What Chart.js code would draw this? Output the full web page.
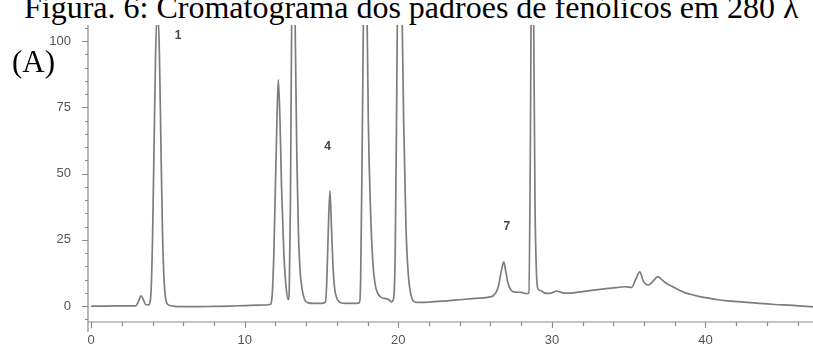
<!DOCTYPE html>
<html lang="pt">
<head>
    <meta charset="UTF-8">
    <title>Cromatograma dos padrões de fenólicos</title>
    <style>
        * { margin: 0; padding: 0; box-sizing: border-box; }
        body { background: #fff; width: 813px; height: 347px; overflow: hidden; position: relative; }
        #wrap { position: absolute; left: 0; top: 0; width: 813px; height: 347px; }
        .title {
            position: absolute; left: 0; top: 0; width: 813px; height: 25px;
            overflow: hidden; background: #fff; z-index: 2;
        }
        .title span {
            position: absolute; left: 24px; top: -9px;
            font: 32px "Liberation Serif", serif; line-height: 32px;
            white-space: nowrap; color: #000;
        }
        .panel {
            position: absolute; left: 12px; top: 47px; z-index: 2;
            font: 31px "Liberation Serif", serif; line-height: 30px; color: #000;
        }
    </style>
</head>
<body>
<div class="title"><span>Figura. 6: Cromatograma dos padrões de fenólicos em 280 λ</span></div>
<div class="panel">(A)</div>
<div id="wrap"><canvas id="chrom" width="813" height="347"></canvas></div>

<script src="https://cdn.jsdelivr.net/npm/chart.js@4.4.0/dist/chart.umd.min.js"></script>
<script>
// retention time (min) and detector signal
const rtMin = [
    0, 1, 2, 2.9, 3.1, 3.25, 3.4, 3.55, 3.75, 3.9, 4.0, 4.1, 4.2, 4.33, 4.45, 4.55, 4.65, 4.75, 4.85, 5.0, 5.3,
    6, 7, 8, 9, 10, 11, 11.65, 11.8, 11.9, 12.0, 12.1, 12.19, 12.3, 12.4, 12.55, 12.7, 12.84,
    12.9, 12.98, 13.05, 13.16, 13.3, 13.4, 13.5, 13.6, 13.75, 13.9, 14.1, 14.5, 15.0,
    15.25, 15.35, 15.45, 15.55, 15.65, 15.75, 15.85, 16.0, 16.2, 16.6, 17.0,
    17.45, 17.55, 17.65, 17.75, 17.85, 17.95, 18.05, 18.2, 18.35, 18.5, 18.65, 18.9, 19.2, 19.4, 19.56,
    19.7, 19.8, 19.9, 20.0, 20.1, 20.2, 20.35, 20.5, 20.65, 20.8, 21.0, 21.3,
    22, 23, 24, 25, 25.8, 26.2, 26.5, 26.7, 26.87, 27.0, 27.15, 27.35, 27.6, 28.0, 28.35,
    28.5, 28.6, 28.7, 28.8, 28.9, 29.0, 29.1, 29.3, 29.5, 29.7, 30.0, 30.3, 30.5, 30.8, 31.2,
    32, 32.7, 33.5, 34.2, 34.75, 35.2, 35.45, 35.72, 35.95, 36.26, 36.6, 36.9, 37.15, 37.45,
    37.9, 38.3, 38.7, 39.2, 39.7, 40.3, 40.8, 41.4, 42.5, 43.5, 44.5, 45.7, 47
];
const signal = [
    0, 0, 0.1, 0.1, 2, 3.9, 2.5, 0.6, 0.5, 5, 25, 60, 95, 112, 95, 60, 28, 10, 3, 0.6, 0,
    -0.2, -0.2, -0.1, 0, 0.2, 0.4, 0.6, 5, 20, 45, 70, 85.5, 70, 45, 20, 7, 2.5,
    5, 40, 100, 150, 100, 55, 28, 14, 6, 2.5, 1.3, 1.0, 1.0,
    1.5, 10, 30, 43.5, 30, 15, 7, 3, 1.4, 1.0, 1.0,
    1.2, 10, 60, 120, 170, 120, 70, 35, 16, 8, 5, 3.2, 2.8, 2.3, 1.6,
    3, 20, 80, 150, 170, 130, 70, 30, 12, 5, 1.8, 1.4,
    1.5, 1.9, 2.4, 2.9, 3.3, 4, 7, 13, 16.7, 13, 8.5, 6, 5.3, 5.2, 4.7,
    5, 60, 160, 120, 40, 12, 6.5, 5.8, 5, 4.8, 5.0, 5.7, 5.4, 4.9, 4.9,
    5.5, 6, 6.6, 7.0, 7.3, 7.1, 10, 12.9, 9.5, 7.9, 9.5, 11.1, 10, 8.6,
    7.2, 6, 5, 4.2, 3.5, 2.9, 2.4, 2.0, 1.5, 1.0, 0.6, 0.3, -0.3
];
// numbered peaks annotated on the trace
const peakNames = ['1', '4', '7'];
const peakRt = [5.66, 15.4, 27.07];
const peakY = [102, 60, 30];

const yTicks = [0, 25, 50, 75, 100];
const xTicks = [0, 10, 20, 30, 40];

const axisColor = '#8a8a8a';

// Origin-style major/minor ticks drawn from the scales
const tickPlugin = {
    id: 'originTicks',
    afterDraw(chart) {
        const ctx = chart.ctx;
        const xs = chart.scales.x, ys = chart.scales.y;
        const area = chart.chartArea;
        ctx.save();
        ctx.strokeStyle = axisColor;
        ctx.lineWidth = 1.2;
        ctx.beginPath();
        ctx.moveTo(area.left, area.top);
        ctx.lineTo(area.left, area.bottom + 10);
        ctx.moveTo(area.left, area.bottom);
        ctx.lineTo(area.right, area.bottom);
        for (let v = -5; v <= 105; v += 5) {
            const py = Math.round(ys.getPixelForValue(v)) + 0.5;
            const len = v % 25 === 0 ? 6 : 3;
            ctx.moveTo(area.left - len, py);
            ctx.lineTo(area.left, py);
        }
        for (let v = 0; v <= 46; v += 2) {
            const px = Math.round(xs.getPixelForValue(v)) + 0.5;
            const len = v % 10 === 0 ? 6 : 4;
            ctx.moveTo(px, area.bottom);
            ctx.lineTo(px, area.bottom + len);
        }
        ctx.stroke();

        ctx.fillStyle = '#444';
        ctx.font = 'bold 12px "Liberation Sans", Arial, sans-serif';
        ctx.textAlign = 'center';
        ctx.textBaseline = 'middle';
        peakNames.forEach((n, i) => {
            ctx.fillText(n, xs.getPixelForValue(peakRt[i]), ys.getPixelForValue(peakY[i]));
        });
        ctx.restore();
    }
};

new Chart(document.getElementById('chrom'), {
    type: 'line',
    data: {
        datasets: [{
            data: rtMin.map((t, i) => ({ x: t, y: signal[i] })),
            borderColor: '#7d7d7d',
            borderWidth: 1.7,
            pointRadius: 0,
            cubicInterpolationMode: 'monotone',
            fill: false
        }]
    },
    options: {
        responsive: false,
        animation: false,
        events: [],
        layout: { padding: { left: 0, right: 0, top: 20, bottom: 0 } },
        plugins: { legend: { display: false }, tooltip: { enabled: false } },
        scales: {
            x: {
                type: 'linear',
                min: -0.2,
                max: 47,
                border: { display: false },
                grid: { display: false },
                afterBuildTicks: s => { s.ticks = xTicks.map(v => ({ value: v })); },
                afterFit: s => { s.height = 25; },
                ticks: {
                    color: '#555',
                    padding: 3,
                    font: { family: '"Liberation Sans", Arial, sans-serif', size: 13 },
                    maxRotation: 0
                }
            },
            y: {
                min: -6,
                max: 108,
                border: { display: false },
                grid: { display: false },
                afterBuildTicks: s => { s.ticks = yTicks.map(v => ({ value: v })); },
                afterFit: s => { s.width = 88; },
                ticks: {
                    color: '#555',
                    padding: 9,
                    font: { family: '"Liberation Sans", Arial, sans-serif', size: 13 }
                }
            }
        }
    },
    plugins: [tickPlugin]
});
</script>
</body>
</html>
